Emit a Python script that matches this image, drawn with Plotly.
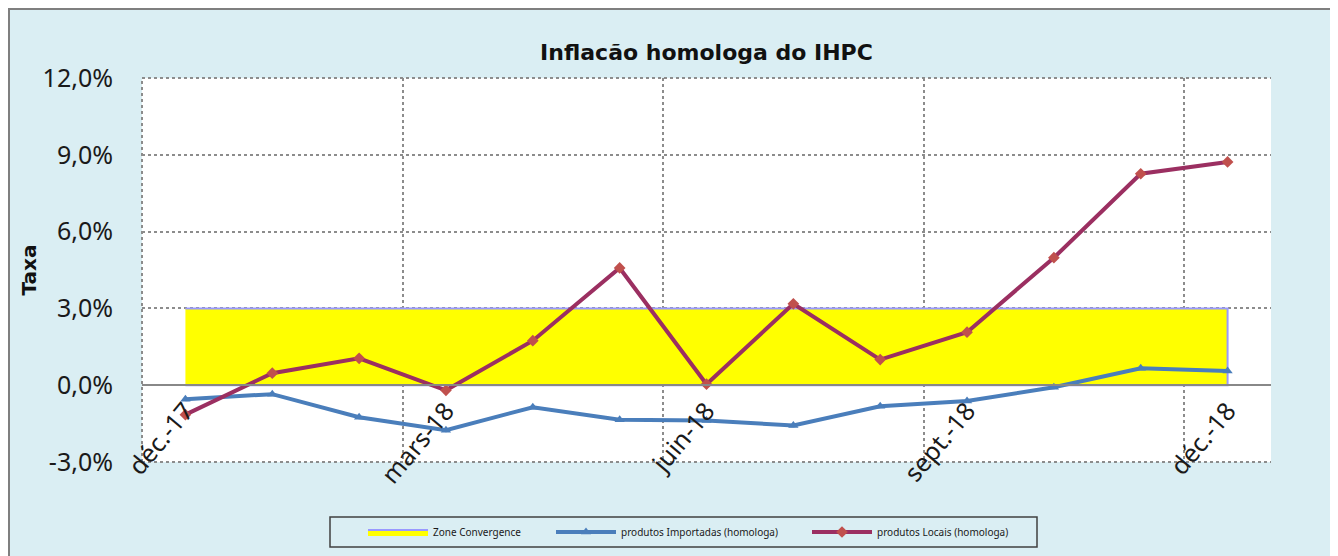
import plotly.graph_objects as go

months = ["déc.-17", "janv.-18", "févr.-18", "mars-18", "avr.-18", "mai-18", "juin-18",
          "juil.-18", "août-18", "sept.-18", "oct.-18", "nov.-18", "déc.-18"]
importadas = [-0.55, -0.35, -1.25, -1.76, -0.86, -1.35, -1.38, -1.57, -0.82, -0.62, -0.08, 0.66, 0.55]
locais = [-1.15, 0.47, 1.05, -0.2, 1.74, 4.58, 0.04, 3.18, 1.0, 2.07, 4.98, 8.26, 8.72]
zone_lower = [0.0] * 13
zone_upper = [3.0] * 13
y_tickvals = [-3, 0, 3, 6, 9, 12]
y_ticklabels = ["-3,0%", "0,0%", "3,0%", "6,0%", "9,0%", "12,0%"]

title_text = "Inflacão homologa do IHPC"
y_title = "Taxa"
name_zone = "Zone Convergence"
name_imp = "produtos Importadas (homologa)"
name_loc = "produtos Locais (homologa)"

BG = "#DAEEF3"
GRID = "#8C8C8C"
FONT = "Noto Sans"

fig = go.Figure()
fig.add_trace(go.Scatter(
    x=months + months[::-1], y=zone_upper + zone_lower[::-1],
    fill="toself", fillcolor="#FFFF00", mode="lines",
    line=dict(color="#9999FF", width=2), name=name_zone, legend="legend",
    showlegend=True, hoverinfo="skip"))
fig.add_trace(go.Scatter(
    x=months, y=importadas, mode="lines+markers", name=name_imp,
    line=dict(color="#4A7EBB", width=4),
    marker=dict(symbol="triangle-up", size=9, color="#4A7EBB"), legend="legend2"))
fig.add_trace(go.Scatter(
    x=months, y=locais, mode="lines+markers", name=name_loc,
    line=dict(color="#9B2F61", width=4),
    marker=dict(symbol="diamond", size=9, color="#C0504D"), legend="legend3"))

W, H = 1338, 556
L, R, T, B = 134, 75, 70, 102
pw, ph = W - L - R, H - T - B

def px(x):
    return (x - L) / pw

def py(y):
    return (H - B - y) / ph

leg_common = dict(orientation="h", bgcolor="rgba(0,0,0,0)", borderwidth=0,
                  font=dict(family=FONT, size=10, color="#1a1a1a"),
                  itemwidth=60, yanchor="middle", xanchor="left", y=py(524))

dot = dict(color=GRID, width=2, dash="dot")

fig.update_layout(
    width=W, height=H,
    margin=dict(l=L, r=R, t=T, b=B, autoexpand=False),
    paper_bgcolor=BG, plot_bgcolor="white",
    showlegend=True,
    title=dict(text="<b>" + title_text + "</b>", x=0.5, xref="paper",
               y=1 - 44 / H, yref="container", yanchor="middle", xanchor="center",
               font=dict(family="DejaVu Sans", size=22, color="#111111")),
    legend=dict(**leg_common, x=px(355)),
    legend2=dict(**leg_common, x=px(543)),
    legend3=dict(**leg_common, x=px(799)),
    xaxis=dict(type="category", range=[-0.5, 12.5], tickmode="linear", tick0=0, dtick=3,
               tickson="boundaries", showgrid=True, gridcolor=GRID, griddash="dot", gridwidth=2,
               anchor="free", position=3 / 15, showline=True, linecolor="#888888", linewidth=2,
               ticks="", tickangle=-50, layer="above traces",
               tickfont=dict(family=FONT, size=25, color="#1a1a1a")),
    yaxis=dict(range=[-3, 12], tickmode="array", tickvals=y_tickvals, ticktext=y_ticklabels,
               showgrid=True, gridcolor=GRID,
               griddash="dot", gridwidth=2, zeroline=False, showline=False,
               ticklabelstandoff=28,
               tickfont=dict(family=FONT, size=25, color="#1a1a1a"),
               title=dict(text="<b>" + y_title + "</b>", standoff=0,
                          font=dict(family="DejaVu Sans", size=20, color="#111111"))),
    shapes=[
        # plot-area dotted border (top, bottom, left)
        dict(type="line", xref="paper", yref="paper", x0=0, x1=1, y0=1, y1=1, line=dot, layer="below"),
        dict(type="line", xref="paper", yref="paper", x0=0, x1=1, y0=0, y1=0, line=dot, layer="below"),
        dict(type="line", xref="paper", yref="paper", x0=0, x1=0, y0=0, y1=1, line=dot, layer="below"),
        # figure frame
        dict(type="rect", xref="paper", yref="paper", x0=px(0.5), x1=px(1500), y0=py(800), y1=py(0.5),
             fillcolor="rgba(0,0,0,0)", line=dict(color="#7F7F7F", width=3)),
        # legend frame
        dict(type="rect", xref="paper", yref="paper", x0=px(322), x1=px(1029), y0=py(539), y1=py(509),
             fillcolor="rgba(0,0,0,0)", line=dict(color="#404040", width=1.5)),
    ],
)

fig.write_html("out.html")
